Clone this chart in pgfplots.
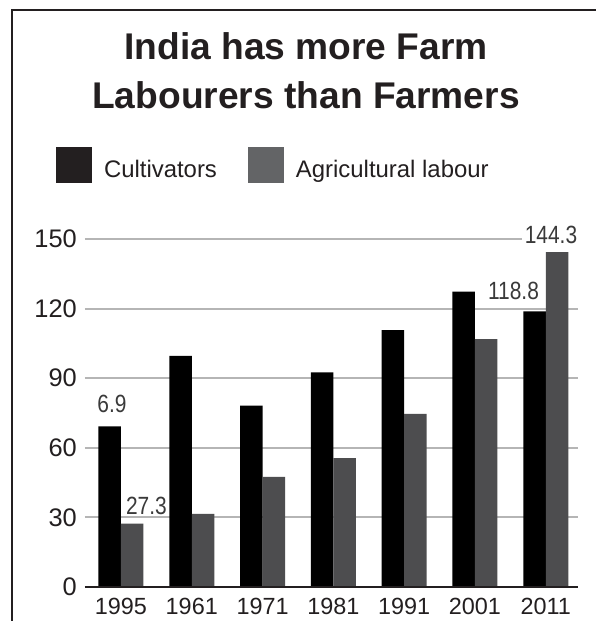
\documentclass[border=0pt]{standalone}
\usepackage{fontspec}
\setmainfont{Liberation Sans}
\newfontfamily\condensed[FakeStretch=0.84]{Liberation Sans}
\usepackage{pgfplots}
\pgfplotsset{compat=1.18}
\definecolor{framec}{HTML}{231F20}
\definecolor{gridc}{HTML}{B5B5B5}
\definecolor{barblack}{HTML}{000000}
\definecolor{bargrey}{HTML}{4D4D4F}
\definecolor{leggrey}{HTML}{636466}
\definecolor{textc}{HTML}{231F20}
\definecolor{valc}{HTML}{3A3A3A}
\begin{document}
\begin{tikzpicture}
\useasboundingbox (0,0) rectangle (596bp,621bp);
\fill[white] (0,0) rectangle (596bp,621bp);
\draw[line width=2.6bp, framec] (12bp,0) -- (12bp,611bp) -- (596bp,611bp);
\node[anchor=base, font=\fontsize{37.3}{44}\selectfont\bfseries, text=textc, inner sep=0pt] at (306bp,561bp) {India has more Farm};
\node[anchor=base, font=\fontsize{37.3}{44}\selectfont\bfseries, text=textc, inner sep=0pt] at (306bp,512bp) {Labourers than Farmers};
\begin{axis}[
  at={(85bp,34bp)}, anchor=south west,
  scale only axis, width=493bp, height=348bp,
  xmin=-0.508, xmax=6.455, ymin=0, ymax=150,
  ybar=0pt, bar width=22.5bp,
  axis lines*=left,
  axis line style={draw=none},
  ytick={0,30,...,150},
  xtick={0,...,6},
  xticklabels={1995,1961,1971,1981,1991,2001,2011},
  major tick length=0pt,
  ymajorgrids, grid style={line width=2bp, color=gridc},
  /pgf/number format/assume math mode=true,
  yticklabel style={font=\fontsize{25.5}{30}\selectfont, inner sep=0pt, xshift=-8bp, text=textc},
  xticklabel style={font=\fontsize{23.5}{28}\selectfont, inner sep=0pt, yshift=-11bp, text=textc},
  clip=false,
  legend columns=2,
  legend cell align=left,
  legend style={at={(-0.0588,1.2644)}, anchor=north west, draw=none, fill=none,
    inner sep=0pt, outer sep=0pt, font=\fontsize{24}{29}\selectfont,
    nodes={inner sep=0pt, text height=17.5bp, text depth=0pt, text=textc},
    /tikz/every odd column/.append style={column sep=12bp},
    /tikz/every even column/.append style={column sep=31bp}},
]
\addplot[fill=barblack, draw=none,
  legend image code/.code={\fill[framec] (0bp,-14.5bp) rectangle (36bp,21.5bp);}]
  coordinates {(0,69.2) (1,99.6) (2,78.2) (3,92.5) (4,110.7) (5,127.3) (6,118.8)};
\addlegendentry{Cultivators}
\addplot[fill=bargrey, draw=none,
  legend image code/.code={\fill[leggrey] (0bp,-14.5bp) rectangle (36bp,21.5bp);}]
  coordinates {(0,27.3) (1,31.5) (2,47.5) (3,55.5) (4,74.6) (5,106.8) (6,144.3)};
\addlegendentry{Agricultural labour}
\draw[line width=2bp, framec] (rel axis cs:0,0) -- (rel axis cs:1,0);
\node[anchor=base, font=\condensed\fontsize{25}{30}\selectfont, text=valc, inner sep=0pt, xshift=-9bp, yshift=13.5bp] at (axis cs:0,69.2) {6.9};
\node[anchor=base, font=\condensed\fontsize{25}{30}\selectfont, text=valc, inner sep=0pt, xshift=25.5bp, yshift=8.7bp] at (axis cs:0,27.3) {27.3};
\node[anchor=base, font=\condensed\fontsize{25}{30}\selectfont, text=valc, inner sep=0pt, xshift=-32.3bp, yshift=11.4bp] at (axis cs:6,118.8) {118.8};
\node[anchor=base, font=\condensed\fontsize{25}{30}\selectfont, text=valc, fill=white, inner xsep=3bp, inner ysep=2bp, xshift=5.2bp, yshift=9.2bp] at (axis cs:6,144.3) {144.3};
\end{axis}
\end{tikzpicture}
\end{document}
